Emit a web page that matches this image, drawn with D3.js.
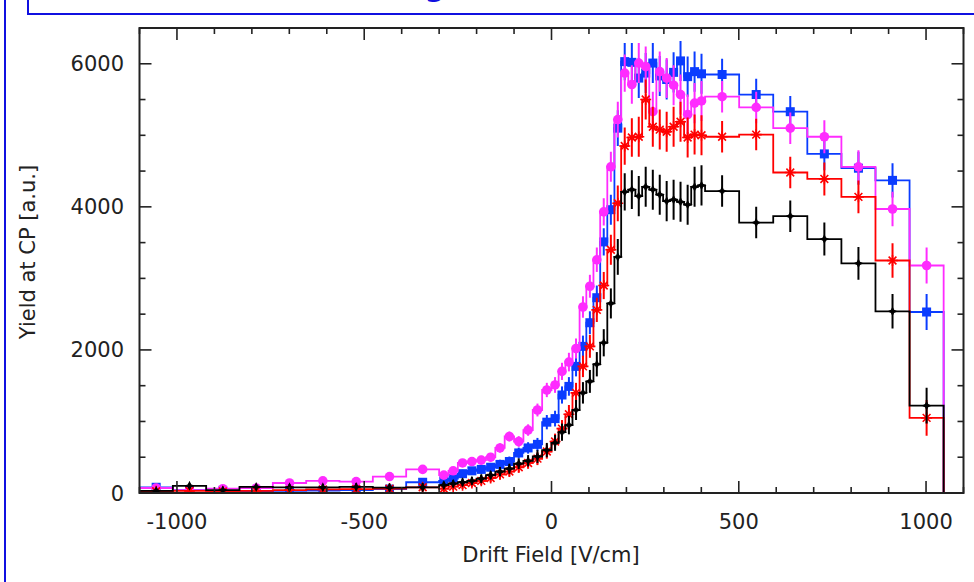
<!DOCTYPE html>
<html>
<head>
<meta charset="utf-8">
<script src="https://cdn.jsdelivr.net/npm/d3@7"></script>
<style>
  body { margin: 0; background: #fff; }
  svg { display: block; }
  text { font-family: "DejaVu Sans", Verdana, sans-serif; fill: #222; }
</style>
</head>
<body>
<svg id="chart" width="974" height="582"></svg>
<script>
// Bin edges of the drift-field histogram [V/cm] (variable width)
const binEdges = [
  -1100, -1011, -922, -833, -744, -655, -566, -477, -388, -300,
  -275, -250, -225, -200, -175, -150, -125, -100, -75, -50, -25, 0,
  19, 37, 56, 75, 93, 112, 130, 149, 168, 186, 205, 224, 242, 261, 280,
  298, 317, 335, 354, 373, 391, 410,
  501, 592, 683, 774, 865, 956, 1047
];

// Yield at the collection plane, one value per bin
const blueYield = [
  80, 40, 30, 25, 30, 35, 40, 55, 150,
  170, 200, 270, 310, 330, 360, 400, 440, 560, 630, 680, 990,
  1040, 1370, 1490, 1770, 2050, 2380, 2730, 3510, 3960, 5100, 6030,
  6020, 5800, 5870, 6010, 5830, 5780, 5880, 6040, 5820, 5890, 5860,
  5850, 5570, 5330, 4740, 4540, 4370, 2530
];
const magentaYield = [
  70, 40, 60, 70, 140, 170, 160, 230, 330,
  250, 310, 420, 440, 460, 500, 630, 790, 720, 880, 1160, 1440,
  1510, 1700, 1830, 2020, 2600, 2890, 3260, 3930, 4560, 5220, 5870,
  5710, 6010, 5960, 5330, 5890, 5800, 5700, 5570, 5290, 5450, 5480,
  5540, 5390, 5100, 4980, 4560, 3970, 3180
];
const redYield = [
  25, 30, 20, 30, 40, 50, 55, 60, 80,
  60, 90, 110, 140, 170, 210, 260, 300, 360, 420, 480, 580,
  720, 900, 1100, 1400, 1770, 2050, 2560, 2900, 3400, 4050, 4850,
  4970, 4980, 5500, 5120, 5080, 5050, 5120, 5190, 4970, 5010, 5000,
  4980, 5010, 4480, 4390, 4140, 3250, 1050
];
const blackYield = [
  30, 100, 40, 85, 80, 80, 85, 75, 80,
  110, 130, 150, 170, 200, 250, 300, 340, 410, 450, 510, 600,
  700, 850, 950, 1160, 1400, 1560, 1800, 2100, 2650, 3300, 4210,
  4240, 4150, 4280, 4240, 4170, 4080, 4100, 4070, 4030, 4280, 4300,
  4220, 3780, 3870, 3550, 3210, 2540, 1220
];
// Statistical uncertainty per bin
const yieldErr = [
  40, 40, 40, 40, 45, 45, 50, 55, 60,
  50, 50, 55, 55, 60, 60, 65, 70, 75, 80, 90, 100,
  110, 120, 130, 140, 150, 160, 170, 190, 210, 250, 260,
  270, 280, 280, 280, 280, 280, 280, 280, 280, 280, 280,
  220, 220, 220, 230, 230, 240, 250
];

const xMajorTicks = [-1000, -500, 0, 500, 1000];
const yMajorTicks = [0, 2000, 4000, 6000];
const xTitle = "Drift Field [V/cm]";
const yTitle = "Yield at CP [a.u.]";

const series = [
  { values: blueYield,    color: "#0a3cff", marker: "square" },
  { values: magentaYield, color: "#ff2bff", marker: "circle" },
  { values: redYield,     color: "#ff0000", marker: "asterisk" },
  { values: blackYield,   color: "#000000", marker: "star4" }
];

const svg = d3.select("#chart");
const plot = { left: 139.5, right: 963.5, top: 28, bottom: 493 };

const x = d3.scaleLinear().domain([-1100, 1100]).range([plot.left, plot.right]);
const y = d3.scaleLinear().domain([0, 6500]).range([plot.bottom, plot.top]);

// Page frame and title box (title runs above the visible page)
const frame = svg.append("g");
frame.append("line").attr("x1", 5).attr("x2", 5).attr("y1", 0).attr("y2", 582)
  .attr("stroke", "#1010e0").attr("stroke-width", 2);
frame.append("path").attr("d", "M28,0 V14 H974")
  .attr("fill", "none").attr("stroke", "#1010e0").attr("stroke-width", 2);
frame.append("text").attr("x", 435).attr("y", -5)
  .attr("text-anchor", "middle").style("font-size", "36px").style("fill", "#1010e0")
  .text("g");

// Clip region for data
svg.append("defs").append("clipPath").attr("id", "plotClip")
  .append("rect").attr("x", plot.left).attr("y", plot.top)
  .attr("width", plot.right - plot.left).attr("height", plot.bottom - plot.top);

const dataG = svg.append("g").attr("clip-path", "url(#plotClip)");

const nBins = binEdges.length - 1;
const centers = d3.range(nBins).map(i => (binEdges[i] + binEdges[i + 1]) / 2);

const stepLine = d3.line().x(d => x(d[0])).y(d => y(d[1]));

function markerPath(type) {
  const s = 5;
  if (type === "star4") {
    const k = 1.6;
    return `M0,${-s} L${k},${-k} L${s},0 L${k},${k} L0,${s} L${-k},${k} L${-s},0 L${-k},${-k} Z`;
  }
  if (type === "asterisk") {
    const r = 5.5, d = r * 0.7071;
    return `M${-r},0 L${r},0 M0,${-r} L0,${r} M${-d},${-d} L${d},${d} M${-d},${d} L${d},${-d}`;
  }
  return null;
}

series.forEach(s => {
  const g = dataG.append("g");
  // histogram outline
  const pts = [];
  s.values.forEach((v, i) => {
    pts.push([binEdges[i], v]);
    pts.push([binEdges[i + 1], v]);
  });
  pts.push([binEdges[nBins], 0]);
  g.append("path").attr("d", stepLine(pts))
    .attr("fill", "none").attr("stroke", s.color).attr("stroke-width", 1.8);

  // error bars
  g.selectAll("line.err").data(s.values).join("line")
    .attr("class", "err")
    .attr("x1", (d, i) => x(centers[i])).attr("x2", (d, i) => x(centers[i]))
    .attr("y1", (d, i) => y(d - yieldErr[i])).attr("y2", (d, i) => y(d + yieldErr[i]))
    .attr("stroke", s.color).attr("stroke-width", 2);

  // markers
  const mk = g.selectAll("g.mk").data(s.values).join("g")
    .attr("transform", (d, i) => `translate(${x(centers[i])},${y(d)})`);
  if (s.marker === "square") {
    mk.append("rect").attr("x", -4.5).attr("y", -4.5).attr("width", 9).attr("height", 9)
      .attr("fill", s.color);
  } else if (s.marker === "circle") {
    mk.append("circle").attr("r", 4.8).attr("fill", s.color);
  } else if (s.marker === "asterisk") {
    mk.append("path").attr("d", markerPath("asterisk"))
      .attr("stroke", s.color).attr("stroke-width", 1.6).attr("fill", "none");
  } else {
    mk.append("path").attr("d", markerPath("star4")).attr("fill", s.color);
  }
});

// Axes: ticks drawn inward on all four sides
const axisColor = "#222";
const axisG = svg.append("g");
axisG.append("rect").attr("x", plot.left).attr("y", plot.top)
  .attr("width", plot.right - plot.left).attr("height", plot.bottom - plot.top)
  .attr("fill", "none").attr("stroke", axisColor).attr("stroke-width", 2);

const xMinor = d3.range(-1100, 1101, 100).filter(v => !xMajorTicks.includes(v));
const yMinor = d3.range(0, 6501, 500).filter(v => !yMajorTicks.includes(v));

function tick(x1, y1, x2, y2) {
  axisG.append("line").attr("x1", x1).attr("y1", y1).attr("x2", x2).attr("y2", y2)
    .attr("stroke", axisColor).attr("stroke-width", 1.6);
}
xMajorTicks.forEach(v => { tick(x(v), plot.bottom, x(v), plot.bottom - 12); tick(x(v), plot.top, x(v), plot.top + 12); });
xMinor.forEach(v => { tick(x(v), plot.bottom, x(v), plot.bottom - 6); tick(x(v), plot.top, x(v), plot.top + 6); });
yMajorTicks.forEach(v => { tick(plot.left, y(v), plot.left + 12, y(v)); tick(plot.right, y(v), plot.right - 12, y(v)); });
yMinor.forEach(v => { tick(plot.left, y(v), plot.left + 6, y(v)); tick(plot.right, y(v), plot.right - 6, y(v)); });

// Tick labels
const fs = "21px";
axisG.selectAll("text.xl").data(xMajorTicks).join("text")
  .attr("x", d => x(d)).attr("y", 529).attr("text-anchor", "middle")
  .style("font-size", fs).text(d => d);
axisG.selectAll("text.yl").data(yMajorTicks).join("text")
  .attr("x", 124).attr("y", d => y(d) + 7.5).attr("text-anchor", "end")
  .style("font-size", fs).text(d => d);

// Axis titles
svg.append("text").attr("x", 551).attr("y", 562).attr("text-anchor", "middle")
  .style("font-size", fs).text(xTitle);
svg.append("text").attr("transform", "translate(35,252) rotate(-90)")
  .attr("text-anchor", "middle").style("font-size", fs).text(yTitle);
</script>
</body>
</html>
